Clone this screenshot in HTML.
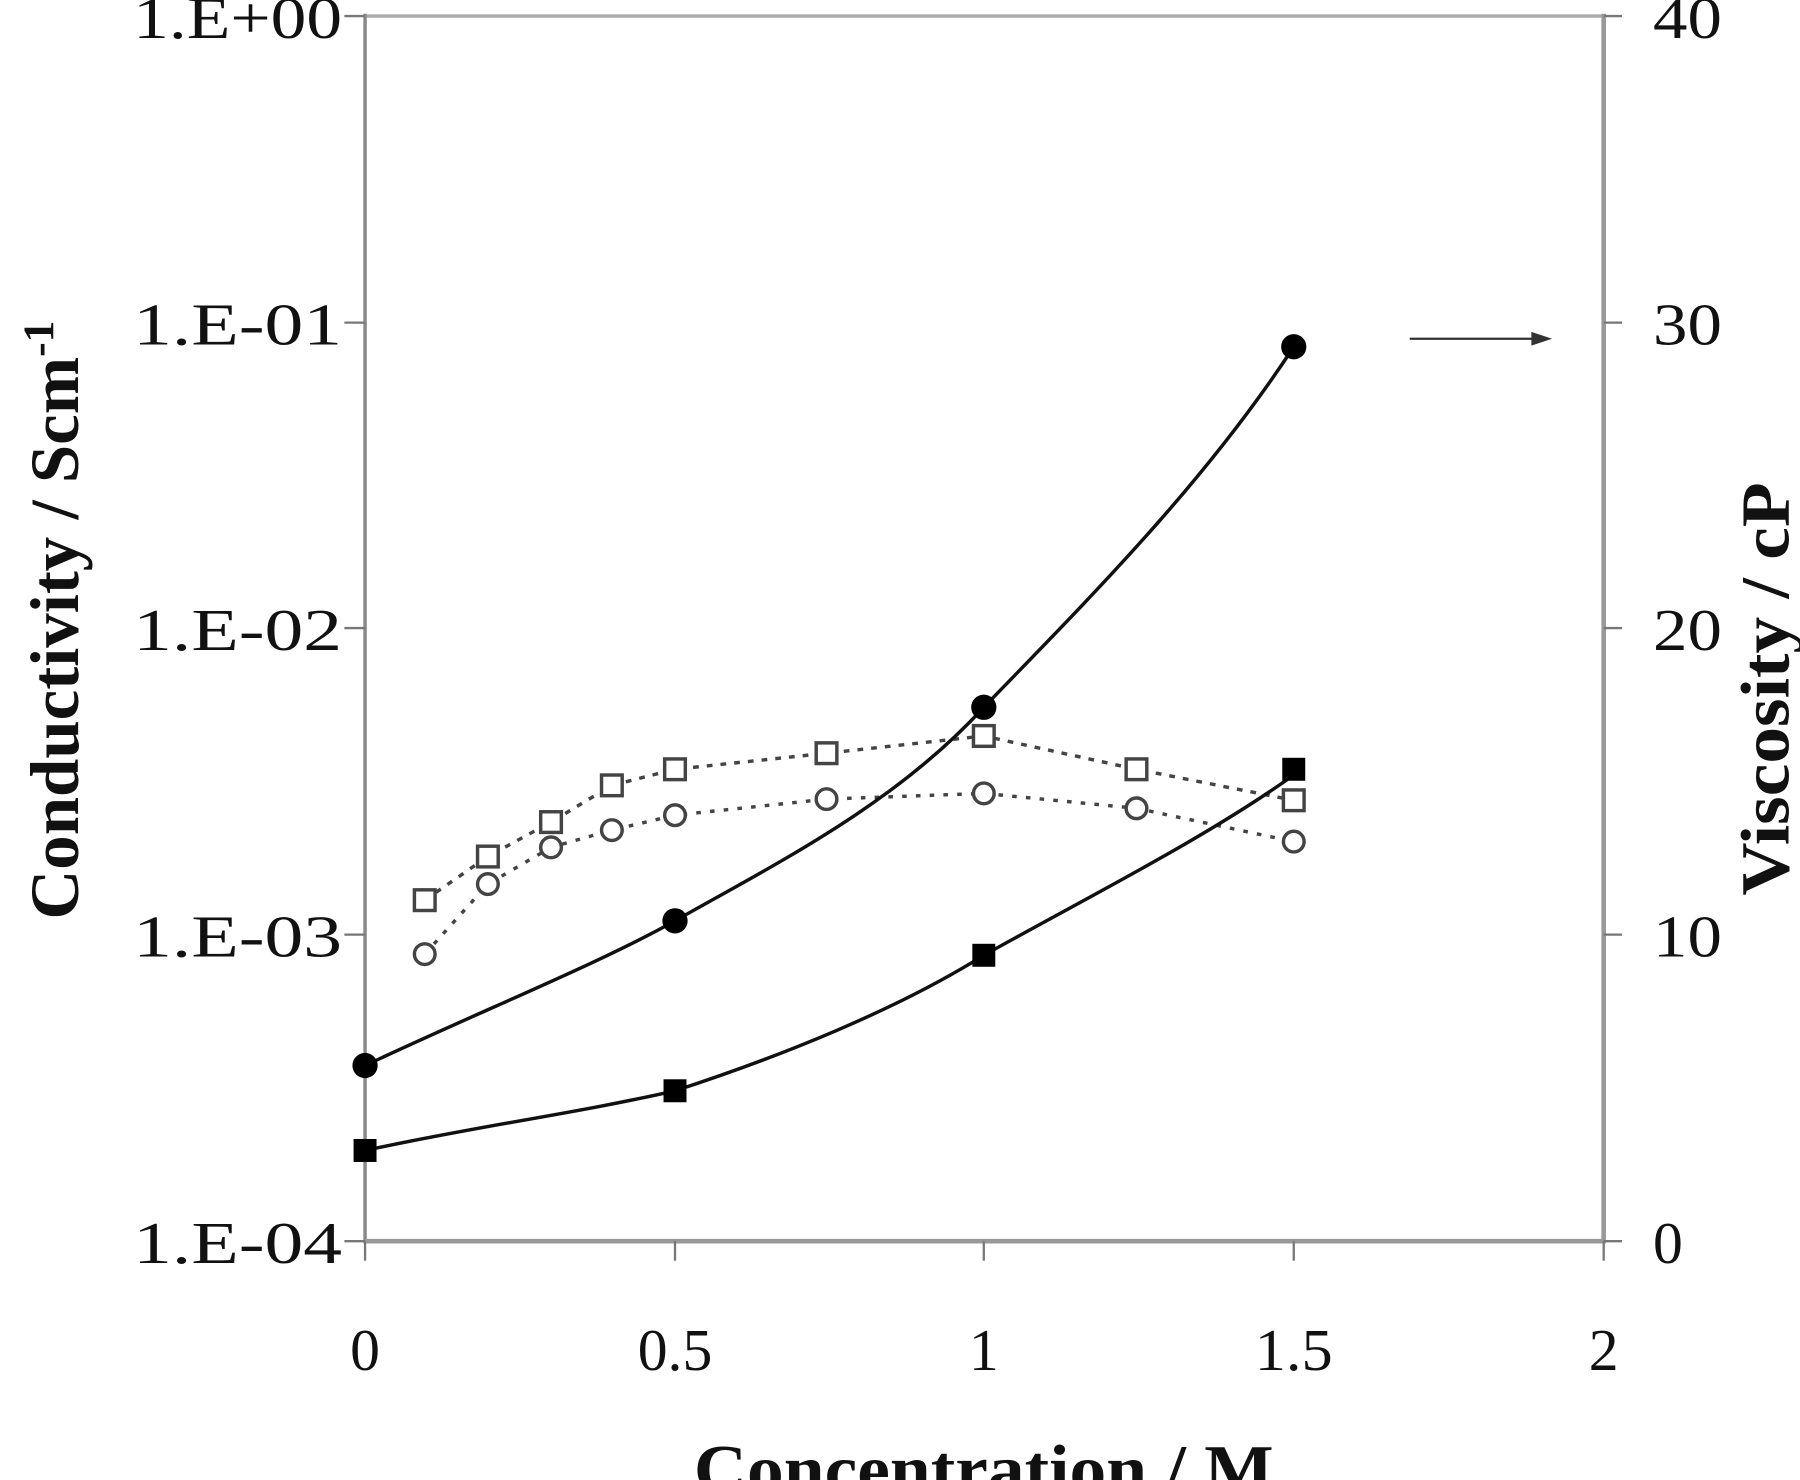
<!DOCTYPE html>
<html><head><meta charset="utf-8"><style>
html,body{margin:0;padding:0;background:#fff;}
svg{display:block;}
text{font-family:"Liberation Serif",serif;fill:#111;}
</style></head><body>
<svg width="1800" height="1480" viewBox="0 0 1568 1289" preserveAspectRatio="none" xmlns="http://www.w3.org/2000/svg">
<rect width="1568" height="1289" fill="#fff"/>
<line x1="318" y1="14" x2="1397" y2="14" stroke="#aaa" stroke-width="3"/>
<line x1="318" y1="12" x2="318" y2="1083" stroke="#888" stroke-width="3"/>
<line x1="1397" y1="12" x2="1397" y2="1083" stroke="#999" stroke-width="4"/>
<line x1="318" y1="1081" x2="1397" y2="1081" stroke="#999" stroke-width="4"/>
<g stroke="#777" stroke-width="2">
<line x1="300" y1="14" x2="318" y2="14"/><line x1="300" y1="281" x2="318" y2="281"/>
<line x1="300" y1="547" x2="318" y2="547"/><line x1="300" y1="814" x2="318" y2="814"/>
<line x1="300" y1="1081" x2="318" y2="1081"/>
<line x1="1397" y1="14" x2="1413" y2="14"/><line x1="1397" y1="281" x2="1413" y2="281"/>
<line x1="1397" y1="547" x2="1413" y2="547"/><line x1="1397" y1="814" x2="1413" y2="814"/>
<line x1="1397" y1="1081" x2="1413" y2="1081"/>
<line x1="318" y1="1081" x2="318" y2="1098"/><line x1="588" y1="1081" x2="588" y2="1098"/>
<line x1="857" y1="1081" x2="857" y2="1098"/><line x1="1127" y1="1081" x2="1127" y2="1098"/>
<line x1="1397" y1="1081" x2="1397" y2="1098"/>
</g>
<g font-size="52" text-anchor="end">
<text x="298" y="33" textLength="182" lengthAdjust="spacingAndGlyphs">1.E+00</text>
<text x="298" y="300" textLength="182" lengthAdjust="spacingAndGlyphs">1.E-01</text>
<text x="298" y="566" textLength="182" lengthAdjust="spacingAndGlyphs">1.E-02</text>
<text x="298" y="833" textLength="182" lengthAdjust="spacingAndGlyphs">1.E-03</text>
<text x="298" y="1100" textLength="182" lengthAdjust="spacingAndGlyphs">1.E-04</text>
</g>
<g font-size="52" text-anchor="start">
<text x="1440" y="33" textLength="60" lengthAdjust="spacingAndGlyphs">40</text>
<text x="1440" y="300" textLength="60" lengthAdjust="spacingAndGlyphs">30</text>
<text x="1440" y="566" textLength="60" lengthAdjust="spacingAndGlyphs">20</text>
<text x="1440" y="833" textLength="60" lengthAdjust="spacingAndGlyphs">10</text>
<text x="1440" y="1100">0</text>
</g>
<g font-size="52" text-anchor="middle">
<text x="318" y="1193">0</text>
<text x="588" y="1193" textLength="65" lengthAdjust="spacingAndGlyphs">0.5</text>
<text x="857" y="1193">1</text>
<text x="1127" y="1193" textLength="68" lengthAdjust="spacingAndGlyphs">1.5</text>
<text x="1397" y="1193">2</text>
</g>
<text x="857" y="1300" font-size="60" font-weight="bold" text-anchor="middle" textLength="505" lengthAdjust="spacingAndGlyphs">Concentration / M</text>
<text transform="translate(68,540) rotate(-90)" font-size="60" font-weight="bold" text-anchor="middle">Conductivity / Scm<tspan dy="-22" font-size="38">-1</tspan></text>
<text transform="translate(1558,600) rotate(-90)" font-size="60" font-weight="bold" text-anchor="middle" textLength="360" lengthAdjust="spacingAndGlyphs">Viscosity / cP</text>
<line x1="1228" y1="295" x2="1340" y2="295" stroke="#333" stroke-width="2"/>
<polygon points="1352,295 1334,289 1334,301" fill="#333"/>
<polyline points="370,784 425,746 480,716 533,684 588,670 720,656 857,641 990,670 1127,697" fill="none" stroke="#444" stroke-width="3" stroke-dasharray="5,7"/>
<polyline points="370,831 425,770 480,738 533,723 588,710 720,696 857,691 990,704 1127,733" fill="none" stroke="#444" stroke-width="3" stroke-dasharray="4,8"/>
<g fill="#fff" stroke="#444" stroke-width="3">
<rect x="361" y="775" width="18" height="18"/><rect x="416" y="737" width="18" height="18"/>
<rect x="471" y="707" width="18" height="18"/><rect x="524" y="675" width="18" height="18"/>
<rect x="579" y="661" width="18" height="18"/><rect x="711" y="647" width="18" height="18"/>
<rect x="848" y="632" width="18" height="18"/><rect x="981" y="661" width="18" height="18"/>
<rect x="1118" y="688" width="18" height="18"/>
<circle cx="370" cy="831" r="9"/><circle cx="425" cy="770" r="9"/><circle cx="480" cy="738" r="9"/>
<circle cx="533" cy="723" r="9"/><circle cx="588" cy="710" r="9"/><circle cx="720" cy="696" r="9"/>
<circle cx="857" cy="691" r="9"/><circle cx="990" cy="704" r="9"/><circle cx="1127" cy="733" r="9"/>
</g>
<path d="M318,928 C420,880 520,840 588,802 C680,750 780,700 857,616 C950,520 1050,420 1127,302" fill="none" stroke="#111" stroke-width="3"/>
<path d="M318,1002 C420,980 500,970 588,950 C680,920 780,880 857,832 C950,780 1050,730 1127,675" fill="none" stroke="#111" stroke-width="3"/>
<g fill="#000">
<circle cx="318" cy="928" r="11"/><circle cx="588" cy="802" r="11"/>
<circle cx="857" cy="616" r="11"/><circle cx="1127" cy="302" r="11"/>
<rect x="308" y="992" width="20" height="20"/><rect x="578" y="940" width="20" height="20"/>
<rect x="847" y="822" width="20" height="20"/><rect x="1117" y="660" width="20" height="20"/>
</g>
</svg>
</body></html>
